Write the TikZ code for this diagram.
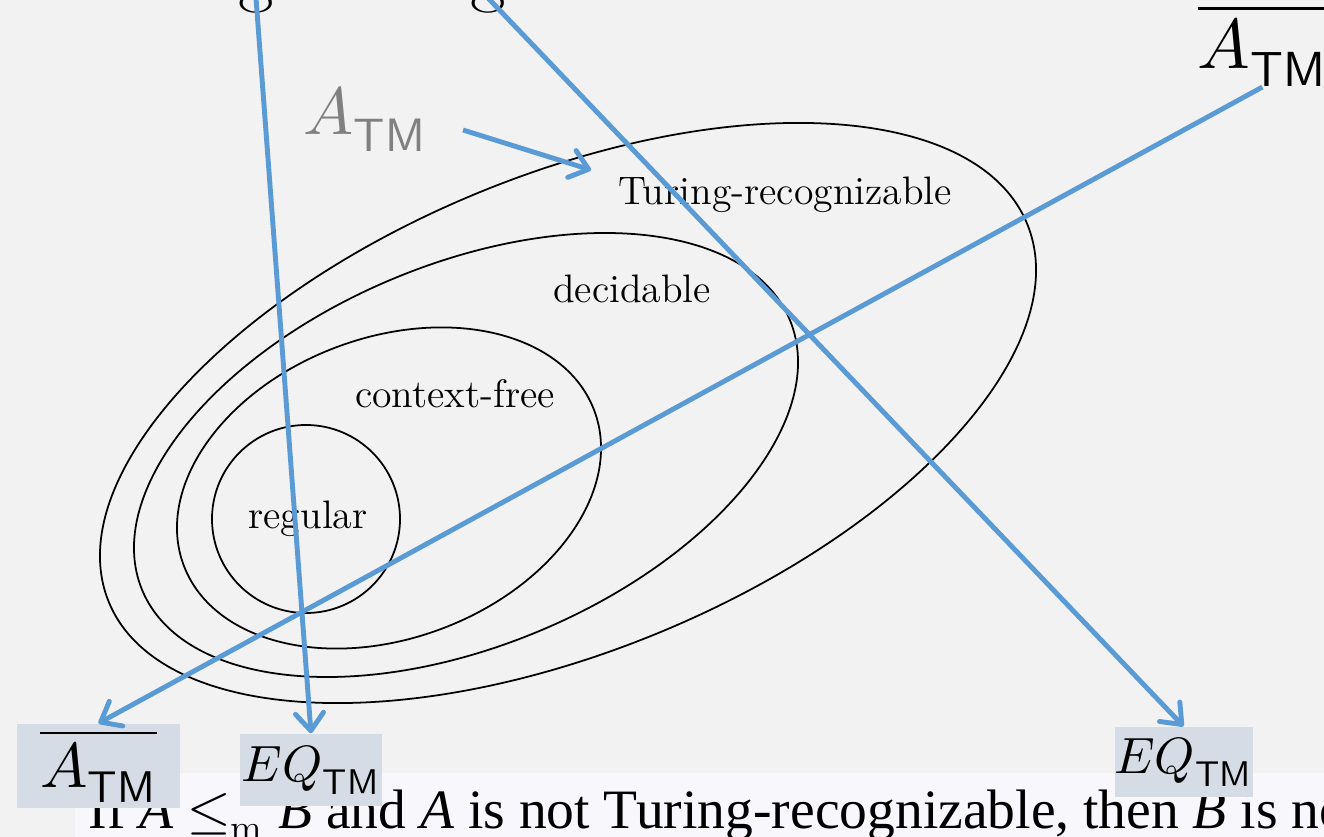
\documentclass[tikz,border=0pt]{standalone}
\usepackage{xcolor}
\usepackage{fontspec}
\usepackage{unicode-math}
\usepackage{tikz}
\usetikzlibrary{arrows.meta}
\newfontfamily\slidefont{Liberation Serif}
\definecolor{slidebg}{HTML}{F2F2F2}
\definecolor{bandbg}{HTML}{F7F7FC}
\definecolor{labelbg}{HTML}{D6DCE5}
\definecolor{arrowblue}{HTML}{5B9BD5}
\definecolor{fadedgray}{HTML}{808080}

\begin{document}
\begin{tikzpicture}[x=0.01cm,y=-0.01cm,
	classline/.style={black,line width=0.5pt},
	classname/.style={anchor=base,inner sep=0pt,font=\fontsize{11.3}{13}\selectfont},
	langbox/.style={fill=labelbg,inner sep=0pt},
	pointer/.style={arrowblue,line width=1.4pt,-{Straight Barb[length=5pt,width=8pt,round]}}]
	\clip (0,0) rectangle (1324,837);
	\fill[slidebg] (0,0) rectangle (1324,837);
	\fill[bandbg] (75,773) rectangle (1324,837);
	\node[anchor=base west,inner sep=0pt,font=\slidefont\fontsize{15.8}{18}\selectfont] (claim) at (88,828) {If \textit{A} $\leq_{\mathrm{m}}$ \textit{B} and \textit{A} is not Turing-recognizable, then \textit{B} is not};
	\node[anchor=base,inner sep=0pt,font=\fontsize{22}{24}\selectfont] (gleft) at (256,-2) {g};
	\node[anchor=base,inner sep=0pt,font=\fontsize{22}{24}\selectfont] (gright) at (488,-2) {g};
	
	\draw[classline,rotate around={22.4:(568,413)}] (568,413) ellipse [x radius=496.6,y radius=237.8];
	\draw[classline,rotate around={22.7:(466,455)}] (466,455) ellipse [x radius=350.9,y radius=190.7];
	\draw[classline,rotate around={20.7:(389,488)}] (389,488) ellipse [x radius=219.4,y radius=150.3];
	\draw[classline] (306,519) circle [radius=94];
	
	\node[classname] (recog) at (785,205) {Turing-recognizable};
	\node[classname] (decid) at (632,303) {decidable};
	\node[classname] (cfree) at (455,408) {context-free};
	\node[classname] (regul) at (308,528) {regular};
	
	\node[anchor=base west,inner sep=0pt,text=fadedgray,font=\fontsize{19}{22}\selectfont] (atmgray) at (303,135) {$A_{\mathsf{TM}}$};
	\node[anchor=base west,inner sep=0pt,font=\fontsize{20}{22}\selectfont] (atmtop) at (1197,69) {$\overline{A_{\mathsf{TM}}}$};
	\node[langbox,minimum width=1.63cm,minimum height=0.84cm,font=\fontsize{18}{20}\selectfont] (atmbox) at (98.5,766) {$\overline{A_{\mathsf{TM}}}$};
	\node[langbox,minimum width=1.42cm,minimum height=0.72cm,font=\fontsize{14.5}{16}\selectfont] (eqmid) at (311,770) {$EQ_{\mathsf{TM}}$};
	\node[langbox,minimum width=1.37cm,minimum height=0.70cm,font=\fontsize{14.5}{16}\selectfont] (eqright) at (1183.5,762) {$EQ_{\mathsf{TM}}$};
	
	\coordinate (atmgraytail) at (463,130);
	\coordinate (recogedge) at (591,170);
	\draw[pointer] (atmgraytail) -- (recogedge);
	\draw[pointer] (gleft.base) -- (eqmid.north);
	\draw[pointer] (gright.base) -- (eqright.north);
	\draw[pointer] (atmtop.south) -- (atmbox.north);
\end{tikzpicture}
\end{document}
